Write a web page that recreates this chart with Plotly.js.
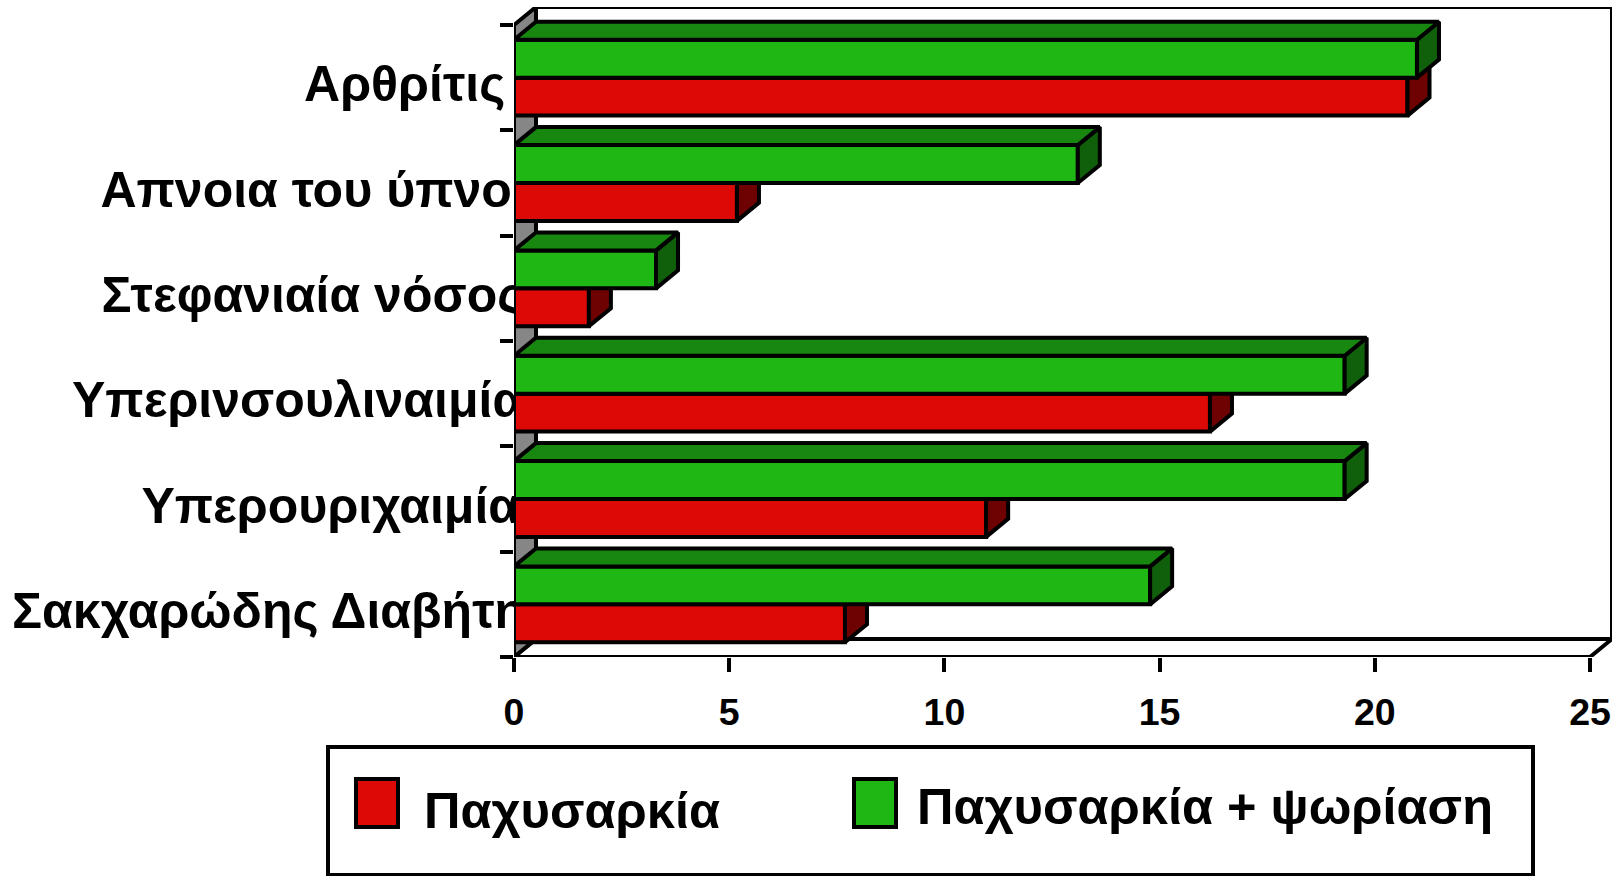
<!DOCTYPE html>
<html><head><meta charset="utf-8">
<script src="https://cdn.plot.ly/plotly-3.0.1.min.js"></script>
<style>html,body{margin:0;padding:0;background:#fff}#c{width:1624px;height:876px}</style>
</head><body><div id="c"></div>
<script>
const categories = ["Σακχαρώδης Διαβήτης","Υπερουριχαιμία\u00A0\u00A0\u200A","Υπερινσουλιναιμία\u00A0\u00A0","Στεφανιαία νόσος\u00A0\u00A0","Απνοια του ύπνου\u2009","Αρθρίτις\u00A0\u00A0\u00A0\u200A"];
const obesity = [7.69,10.97,16.17,1.74,5.18,20.76];
const obesityPsoriasis = [14.78,19.3,19.3,3.3,13.1,20.98];
const seriesNames = ["Παχυσαρκία","Παχυσαρκία + ψωρίαση"];
const xTicks = [0,5,10,15,20,25];

const W=1624,H=876;
const L=514,R=1612,B=657,T=7;
const xUnit=(1590-514)/25, yUnit=(657-25)/6;
const dx=22/xUnit, dy=18/yUnit;
const xMax=(R-L)/xUnit, yMin=-0.5, yMax=yMin+(B-T)/yUnit;
const barH=0.36, LW=4;
const C={red:'#DD0907',redSide:'#6E0202',green:'#1FB714',greenTop:'#17870F',greenSide:'#105F0A',wall:'#868686'};
const idx=categories.map((_,i)=>i);
const fx=[L/W,R/W], fy=[(H-B)/H,(H-T)/H];

function poly(list){const x=[],y=[];list.forEach(p=>{p.forEach(q=>{x.push(q[0]);y.push(q[1]);});x.push(p[0][0]);y.push(p[0][1]);x.push(null);y.push(null);});return {x,y};}
function face(list,color,xa,ya){const p=poly(list);return {type:'scatter',mode:'lines',x:p.x,y:p.y,fill:'toself',fillcolor:color,line:{color:'#000',width:LW,shape:'linear'},xaxis:xa,yaxis:ya,cliponaxis:false,hoverinfo:'skip',showlegend:false};}

const wallTraces=[
 face([[[dx,yMin+dy],[25+dx,yMin+dy],[25+dx,yMax],[dx,yMax]]],'#fff','x','y'),
 face([[[0,yMin],[25,yMin],[25+dx,yMin+dy],[dx,yMin+dy]]],'#fff','x','y'),
 face([[[0,yMin],[dx,yMin+dy],[dx,yMax],[0,yMax-dy]]],C.wall,'x','y')
];
function bar(vals,color,off,name,xa,ya){return {type:'bar',orientation:'h',x:vals,y:idx,width:barH,offset:off,marker:{color:color,line:{color:'#000',width:LW}},name:name,xaxis:xa,yaxis:ya,hoverinfo:'skip',showlegend:false};}
const redBars=bar(obesity,C.red,-barH,seriesNames[0],'x2','y2');
const redSide=face(obesity.map((v,i)=>[[v,i-barH],[v+dx,i-barH+dy],[v+dx,i+dy],[v,i]]),C.redSide,'x2','y2');
const greenBars=bar(obesityPsoriasis,C.green,0,seriesNames[1],'x3','y3');
const greenSide=face(obesityPsoriasis.map((v,i)=>[[v,i],[v+dx,i+dy],[v+dx,i+barH+dy],[v,i+barH]]),C.greenSide,'x3','y3');
const greenTop=face(obesityPsoriasis.map((v,i)=>[[0,i+barH],[v,i+barH],[v+dx,i+barH+dy],[dx,i+barH+dy]]),C.greenTop,'x3','y3');

const font={family:'"Liberation Sans",Arial,sans-serif',color:'#000'};
const hidX=o=>({overlaying:'x',domain:fx,range:[0,xMax],visible:false,fixedrange:true,anchor:o});
const hidY=o=>({overlaying:'y',domain:fy,range:[yMin,yMax],visible:false,fixedrange:true,anchor:o});
const px=x=>x/W, py=y=>1-y/H;
function box(x0,y0,x1,y1,fill){return {type:'rect',xref:'paper',yref:'paper',x0:px(x0),x1:px(x1),y0:py(y0),y1:py(y1),fillcolor:fill,line:{color:'#000',width:LW},layer:'above'};}
function label(text,x,y){return {xref:'paper',yref:'paper',x:px(x),y:py(y),xanchor:'left',yanchor:'middle',showarrow:false,text:text,font:{...font,size:50.5,weight:700}};}

const layout={width:W,height:H,margin:{l:0,r:0,t:0,b:0},paper_bgcolor:'#fff',plot_bgcolor:'#fff',showlegend:false,
 xaxis:{domain:fx,range:[0,xMax],tickmode:'array',tickvals:xTicks,ticktext:xTicks.map(String),ticks:'outside',ticklen:14,tickwidth:LW,tickcolor:'#000',showgrid:false,zeroline:false,showline:false,
   tickfont:{...font,size:37.5,weight:700},ticklabelstandoff:8,fixedrange:true,anchor:'y'},
 yaxis:{domain:fy,range:[yMin,yMax],tickmode:'array',tickvals:idx,ticktext:categories,ticks:'',showgrid:false,zeroline:false,showline:false,layer:'below traces',
   tickfont:{...font,size:50,weight:700},ticklabelstandoff:-38,ticklabelshift:6,fixedrange:true,anchor:'x',
   minor:{tickmode:'array',tickvals:[-0.5,0.5,1.5,2.5,3.5,4.5,5.5],ticks:'outside',ticklen:13,tickwidth:LW,tickcolor:'#000',showgrid:false}},
 xaxis2:hidX('y2'),yaxis2:hidY('x2'),xaxis3:hidX('y3'),yaxis3:hidY('x3'),
 bargap:0,
 shapes:[box(328,747,1533,875,'rgba(255,255,255,0)'),box(356,779,398,827,C.red),box(854,779,896,827,C.green)],
 annotations:[label(seriesNames[0],422,810),label(seriesNames[1],915,806)]
};
Plotly.newPlot('c',[...wallTraces,redBars,redSide,greenBars,greenSide,greenTop],layout,{displayModeBar:false,staticPlot:true});
</script></body></html>
